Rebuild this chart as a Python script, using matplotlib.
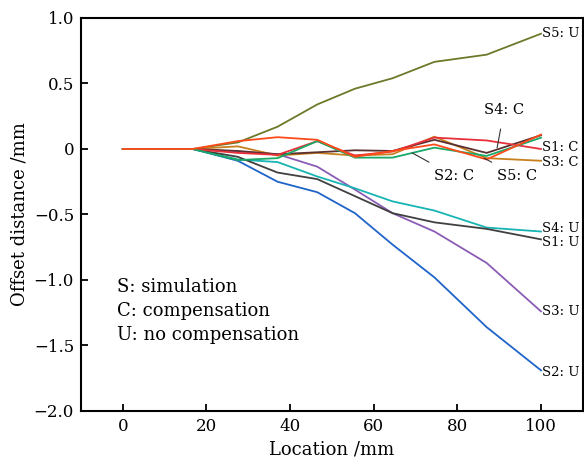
import matplotlib
matplotlib.use("Agg")
import matplotlib.pyplot as plt

plt.rcParams['font.family'] = ['DejaVu Serif']

x = [0, 16.7, 27.5, 37, 46.5, 55.5, 64.5, 74.5, 87, 100]

s5_u = [0, 0, 0.05, 0.17, 0.34, 0.46, 0.54, 0.665, 0.72, 0.88]
s2_u = [0, 0, -0.09, -0.25, -0.33, -0.49, -0.73, -0.98, -1.36, -1.69]
s3_u = [0, 0, -0.02, -0.04, -0.135, -0.31, -0.49, -0.63, -0.87, -1.24]
s4_u = [0, 0, -0.08, -0.10, -0.21, -0.30, -0.40, -0.47, -0.60, -0.63]
s1_u = [0, 0, -0.06, -0.18, -0.23, -0.36, -0.49, -0.56, -0.61, -0.69]

s5_c = [0, 0, 0.06, 0.09, 0.07, -0.06, -0.015, 0.035, -0.08, 0.11]
s1_c = [0, 0, -0.03, -0.045, 0.06, -0.05, -0.02, 0.087, 0.065, 0.0]
s3_c = [0, 0, 0.02, -0.05, -0.03, -0.05, -0.04, 0.094, -0.07, -0.09]
s4_c = [0, 0, -0.015, -0.04, -0.025, -0.01, -0.015, 0.07, -0.03, 0.105]
s2_c = [0, 0, -0.085, -0.07, 0.06, -0.066, -0.066, 0.01, -0.053, 0.086]

series = [
    ("S5: U", s5_u, "#6b7a2a"),
    ("S2: U", s2_u, "#1f64c8"),
    ("S3: U", s3_u, "#8a5cb5"),
    ("S4: U", s4_u, "#18b4b4"),
    ("S1: U", s1_u, "#404040"),
    ("S3: C", s3_c, "#c8801e"),
    ("S4: C", s4_c, "#5c3030"),
    ("S1: C", s1_c, "#e8303a"),
    ("S2: C", s2_c, "#18a868"),
    ("S5: C", s5_c, "#ff4a1a"),
]

yticks = [-2.0, -1.5, -1.0, -0.5, 0, 0.5, 1.0]
ytick_labels = ["\u22122.0", "\u22121.5", "\u22121.0", "\u22120.5", "0", "0.5", "1.0"]
xticks = [0, 20, 40, 60, 80, 100]

fig = plt.figure(figsize=(5.84, 4.61), dpi=100)
ax = fig.add_axes([0.1387, 0.1085, 0.998 - 0.1387, 0.961 - 0.1085])

for name, vals, col in series:
    ax.plot(x, vals, color=col, lw=1.3)

ax.set_xlim(-10, 110)
ax.set_ylim(-2.0, 1.0)
ax.set_xticks(xticks)
ax.set_yticks(yticks)
ax.set_yticklabels(ytick_labels)
ax.tick_params(direction='in', length=5, width=1.3, labelsize=12, top=False, right=False, pad=5)
for sp in ax.spines.values():
    sp.set_linewidth(1.5)

ax.set_xlabel("Location /mm", fontsize=13, labelpad=4)
ax.set_ylabel("Offset distance /mm", fontsize=13, labelpad=4)

# right-end labels
right_labels = [("S5: U", 0.885), ("S1: C", 0.015), ("S3: C", -0.105),
                ("S4: U", -0.605), ("S1: U", -0.715), ("S3: U", -1.244), ("S2: U", -1.71)]
for txt, yv in right_labels:
    ax.text(100.15, yv, txt, fontsize=9.5, ha='left', va='center', clip_on=False)

# leader-line labels
ax.annotate("S2: C", xy=(69.2, -0.03), xytext=(79.2, -0.206), fontsize=10.5,
            ha='center', va='center',
            arrowprops=dict(arrowstyle='-', color='#333333', lw=0.8, shrinkA=6, shrinkB=0))
ax.annotate("S5: C", xy=(86.4, -0.07), xytext=(94.3, -0.206), fontsize=10.5,
            ha='center', va='center',
            arrowprops=dict(arrowstyle='-', color='#333333', lw=0.8, shrinkA=6, shrinkB=0))
ax.annotate("S4: C", xy=(89.5, 0.008), xytext=(91.2, 0.30), fontsize=10.5,
            ha='center', va='center',
            arrowprops=dict(arrowstyle='-', color='#333333', lw=0.8, shrinkA=7, shrinkB=0))

# key text
for txt, yv in [("S: simulation", -1.053), ("C: compensation", -1.237), ("U: no compensation", -1.42)]:
    ax.text(-1.4, yv, txt, fontsize=13, ha='left', va='center')

fig.savefig("out.png", dpi=100)
